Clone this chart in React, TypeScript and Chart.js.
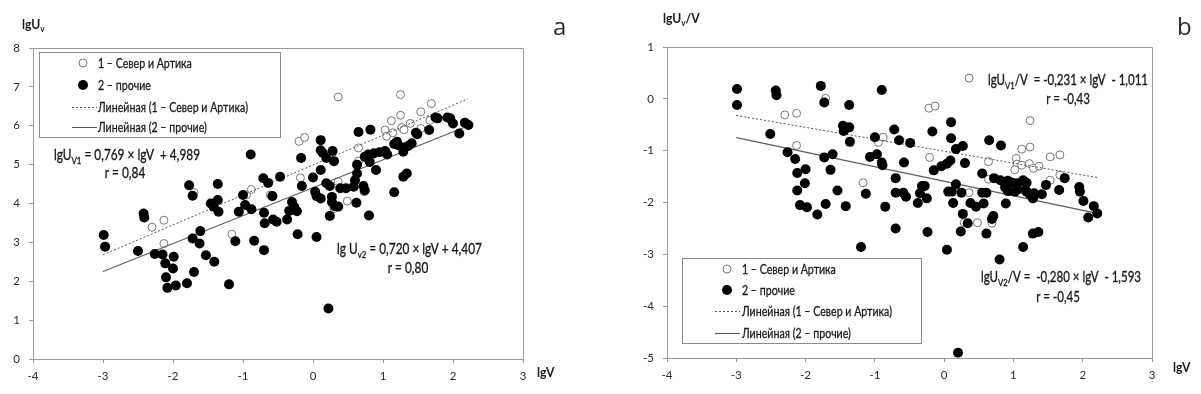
import React, { useEffect, useRef } from "react";
import { Chart, registerables } from "chart.js";

Chart.register(...registerables);

type P = [number, number];

// ---------- Panel a: lgUv vs lgV ----------
const northA: P[] = [
  [-2.30, 3.39], [-2.13, 3.57], [-2.13, 2.97], [-1.70, 4.28], [-1.16, 3.21], [-0.95, 4.22],
  [-0.88, 4.36], [-0.61, 4.22], [-0.20, 5.60], [-0.12, 5.70], [-0.18, 4.66], [0.30, 3.87],
  [0.36, 6.74], [0.36, 4.56], [0.49, 4.06], [0.65, 5.43], [0.65, 5.09], [0.73, 4.30],
  [1.03, 5.89], [1.05, 5.73], [1.12, 6.13], [1.14, 5.82], [1.25, 6.80], [1.25, 6.27],
  [1.27, 5.95], [1.30, 5.90], [1.39, 6.06], [1.54, 6.36], [1.54, 5.93], [1.67, 6.14], [1.69, 6.57],
];
const otherA: P[] = [
  [-2.99, 3.19], [-2.97, 2.89], [-2.50, 2.78], [-2.42, 3.74], [-2.41, 3.64], [-2.26, 2.70],
  [-2.15, 2.69], [-2.11, 2.46], [-2.10, 2.10], [-2.08, 1.83], [-1.99, 2.63], [-2.00, 2.33],
  [-1.96, 1.89], [-1.80, 1.95], [-1.77, 4.47], [-1.72, 4.20], [-1.72, 3.10], [-1.70, 2.24],
  [-1.61, 3.29], [-1.62, 2.97], [-1.53, 2.67], [-1.46, 4.00], [-1.42, 3.92], [-1.36, 4.09],
  [-1.35, 3.79], [-1.36, 4.50], [-1.41, 2.50], [-1.20, 1.92], [-1.11, 3.03], [-1.06, 3.79],
  [-1.00, 4.22], [-0.97, 3.96], [-0.88, 3.85], [-0.89, 5.26], [-0.84, 3.04], [-0.71, 4.65],
  [-0.64, 4.53], [-0.70, 3.76], [-0.69, 3.49], [-0.70, 2.80], [-0.58, 4.19], [-0.57, 3.59],
  [-0.52, 3.53], [-0.47, 4.69], [-0.37, 3.59], [-0.34, 3.81], [-0.30, 4.04], [-0.27, 3.92],
  [-0.23, 3.80], [-0.22, 3.21], [-0.17, 5.17], [-0.16, 4.45], [0.00, 4.67], [0.03, 4.30],
  [0.05, 4.19], [0.05, 3.14], [0.11, 5.63], [0.11, 5.37], [0.14, 5.30], [0.11, 4.86],
  [0.11, 4.13], [0.19, 5.17], [0.19, 4.52], [0.22, 1.30], [0.24, 4.45], [0.24, 3.68],
  [0.27, 4.17], [0.27, 4.04], [0.28, 5.35], [0.30, 5.09], [0.31, 3.93], [0.36, 3.92],
  [0.39, 4.39], [0.47, 4.39], [0.58, 4.43], [0.60, 4.60], [0.62, 4.02], [0.63, 5.00],
  [0.63, 4.77], [0.65, 5.84], [0.72, 4.45], [0.74, 4.34], [0.74, 5.20], [0.79, 5.26],
  [0.80, 3.69], [0.81, 5.07], [0.82, 5.90], [0.87, 5.29], [0.90, 4.86], [0.95, 5.32],
  [1.03, 5.35], [1.06, 5.26], [1.16, 5.53], [1.16, 4.29], [1.20, 5.59], [1.22, 5.50],
  [1.29, 5.33], [1.29, 4.69], [1.30, 5.44], [1.34, 4.77], [1.36, 5.48], [1.41, 5.55],
  [1.47, 5.82], [1.49, 5.78], [1.66, 5.89], [1.75, 6.21], [1.78, 6.19], [1.92, 6.21],
  [1.96, 6.19], [2.00, 6.06], [2.09, 5.80], [2.17, 6.08], [2.22, 6.02],
];
const trendNorthA: P[] = [[-3, 2.68], [2.21, 6.69]];
const trendOtherA: P[] = [[-3, 2.25], [2.22, 6.0]];

// ---------- Panel b: lgUv/V vs lgV ----------
const northB: P[] = [
  [-2.30, -0.31], [-2.13, -0.28], [-2.13, -0.90], [-1.71, 0.01], [-1.17, -1.62], [-0.95, -0.84],
  [-0.88, -0.74], [-0.22, -0.18], [-0.13, -0.14], [-0.21, -1.13], [0.36, 0.40], [0.36, -1.81],
  [0.29, -2.39], [0.48, -2.39], [0.69, -2.40], [0.64, -1.21], [0.64, -1.55], [1.24, -0.42],
  [1.12, -0.97], [1.24, -0.93], [1.04, -1.15], [1.05, -1.26], [1.02, -1.37], [1.12, -1.28],
  [1.23, -1.25], [1.29, -1.34], [1.37, -1.30], [1.53, -1.12], [1.67, -1.08], [1.67, -1.47], [1.53, -1.57],
];
const otherB: P[] = [
  [-2.99, 0.19], [-2.99, -0.12], [-2.43, 0.16], [-2.42, 0.07], [-2.51, -0.68], [-2.26, -1.03],
  [-2.15, -1.16], [-2.12, -1.43], [-2.00, -1.36], [-2.01, -1.63], [-2.12, -1.77], [-2.08, -2.05],
  [-1.98, -2.09], [-1.83, -2.23], [-1.78, 0.25], [-1.73, -0.07], [-1.73, -1.13], [-1.71, -2.03],
  [-1.61, -1.07], [-1.64, -1.37], [-1.54, -1.77], [-1.46, -0.52], [-1.42, -0.57], [-1.37, -0.55],
  [-1.45, -0.62], [-1.37, -0.12], [-1.36, -0.83], [-1.42, -2.07], [-1.20, -2.86], [-1.13, -1.83],
  [-1.07, -1.12], [-1.00, -0.74], [-0.97, -1.07], [-0.90, 0.17], [-0.90, -1.23], [-0.89, -1.28],
  [-0.85, -2.08], [-0.72, -0.59], [-0.65, -0.80], [-0.70, -1.53], [-0.70, -1.81], [-0.70, -2.50],
  [-0.58, -1.23], [-0.59, -1.81], [-0.55, -1.89], [-0.49, -0.85], [-0.38, -2.01], [-0.35, -1.82],
  [-0.32, -1.68], [-0.28, -1.68], [-0.25, -1.92], [-0.24, -2.57], [-0.17, -0.63], [-0.15, -1.38],
  [-0.04, -1.30], [0.04, -1.25], [0.09, -1.19], [0.04, -2.91], [0.06, -1.79], [0.11, -1.79],
  [0.10, -0.45], [0.10, -0.76], [0.13, -2.01], [0.17, -0.97], [0.17, -1.65], [0.20, -4.90],
  [0.25, -1.81], [0.27, -0.91], [0.27, -2.22], [0.30, -1.24], [0.24, -2.56], [0.34, -2.40],
  [0.38, -2.01], [0.46, -2.08], [0.55, -1.81], [0.61, -1.81], [0.57, -2.02], [0.69, -2.32],
  [0.71, -2.26], [0.61, -2.60], [0.80, -3.10], [0.89, -2.02], [0.65, -0.80], [0.82, -0.90],
  [0.55, -1.44], [0.72, -1.53], [0.81, -1.57], [0.86, -1.60], [0.92, -1.58], [0.99, -1.62],
  [1.06, -1.63], [1.14, -1.57], [1.19, -1.62], [1.05, -1.76], [1.17, -1.76], [1.23, -1.83],
  [1.29, -1.89], [0.88, -1.71], [0.92, -1.78], [1.02, -1.79], [1.19, -1.79], [1.30, -1.82],
  [1.41, -1.84], [1.28, -1.92], [1.14, -2.86], [1.28, -2.60], [1.36, -2.57], [1.47, -1.66],
  [1.74, -1.53], [1.66, -1.76], [1.95, -1.70], [1.96, -1.79], [2.01, -1.97], [2.16, -2.07],
  [2.08, -2.29], [2.21, -2.21],
];
const trendNorthB: P[] = [[-3, -0.32], [2.22, -1.52]];
const trendOtherB: P[] = [[-3, -0.75], [2.21, -2.21]];

// ---------- Texts ----------
const legendLabels = [
  "1 – Север и Артика",
  "2 – прочие",
  "Линейная (1 – Север и Артика)",
  "Линейная (2 – прочие)",
];
type Seg = { t: string; sub?: boolean };
const eqA1: Seg[] = [{ t: "lgU" }, { t: "V1", sub: true }, { t: " = 0,769 × lgV  + 4,989" }];
const rA1: Seg[] = [{ t: "r = 0,84" }];
const eqA2: Seg[] = [{ t: "lg U" }, { t: "v2", sub: true }, { t: " = 0,720 × lgV + 4,407" }];
const rA2: Seg[] = [{ t: "r = 0,80" }];
const eqB1: Seg[] = [{ t: "lgU" }, { t: "V1", sub: true }, { t: "/V  = -0,231 × lgV  - 1,011" }];
const rB1: Seg[] = [{ t: "r = -0,43" }];
const eqB2: Seg[] = [{ t: "lgU" }, { t: "V2", sub: true }, { t: "/V =  -0,280 × lgV  - 1,593" }];
const rB2: Seg[] = [{ t: "r = -0,45" }];
const yTitleA: Seg[] = [{ t: "lgU" }, { t: "v", sub: true }];
const yTitleB: Seg[] = [{ t: "lgU" }, { t: "v", sub: true }, { t: "/V" }];
const xTitle: Seg[] = [{ t: "lgV" }];

const FONT = "Lato, 'Liberation Sans', sans-serif";
const TEXT = "#1a1a1a";
const FRAME = "#9a9a9a";

type TextItem = { segs: Seg[]; x: number; y: number; size: number; bold?: boolean; align?: "left" | "center"; k: number };

function segWidth(ctx: CanvasRenderingContext2D, segs: Seg[], size: number, bold?: boolean) {
  const w = bold ? "bold " : "";
  let total = 0;
  for (const s of segs) {
    ctx.font = `${w}${s.sub ? Math.round(size * 0.68) : size}px ${FONT}`;
    total += ctx.measureText(s.t).width;
  }
  return total;
}

function drawRich(ctx: CanvasRenderingContext2D, it: TextItem, k: number) {
  const w = it.bold ? "bold " : "";
  const main = `${w}${it.size}px ${FONT}`;
  const sub = `${w}${Math.round(it.size * 0.68)}px ${FONT}`;
  const total = segWidth(ctx, it.segs, it.size, it.bold);
  const start = it.align === "center" ? it.x - (total * k) / 2 : it.x;
  ctx.save();
  ctx.translate(start, it.y);
  ctx.scale(k, 1);
  ctx.textAlign = "left";
  ctx.textBaseline = "alphabetic";
  ctx.fillStyle = TEXT;
  ctx.strokeStyle = TEXT;
  ctx.lineWidth = it.bold ? 0 : 0.35;
  let cx = 0;
  for (const s of it.segs) {
    ctx.font = s.sub ? sub : main;
    const yy = s.sub ? it.size * 0.25 : 0;
    ctx.fillText(s.t, cx, yy);
    if (!it.bold) ctx.strokeText(s.t, cx, yy);
    cx += ctx.measureText(s.t).width;
  }
  ctx.restore();
}

type LegendSpec = { box: [number, number, number, number]; rows: number[]; markerX: number; textX: number; lineX0: number; lineX1: number; longestW: number };

const overlayPlugin = {
  id: "overlay",
  beforeDatasetsDraw(chart: any) {
    const { ctx, chartArea: ca } = chart;
    ctx.save();
    ctx.strokeStyle = FRAME;
    ctx.lineWidth = 1;
    ctx.beginPath();
    ctx.moveTo(Math.round(ca.left), Math.round(ca.top) + 0.5);
    ctx.lineTo(Math.round(ca.right) + 0.5, Math.round(ca.top) + 0.5);
    ctx.lineTo(Math.round(ca.right) + 0.5, Math.round(ca.bottom));
    ctx.stroke();
    ctx.restore();
  },
  afterDraw(chart: any, _args: any, opts: any) {
    const ctx: CanvasRenderingContext2D = chart.ctx;
    ctx.save();
    const lg: LegendSpec = opts.legend;
    if (lg) {
      const [x0, y0, x1, y1] = lg.box;
      ctx.fillStyle = "#fff";
      ctx.fillRect(x0, y0, x1 - x0, y1 - y0);
      ctx.strokeStyle = "#8a8a8a";
      ctx.lineWidth = 1;
      ctx.strokeRect(x0 + 0.5, y0 + 0.5, x1 - x0, y1 - y0);
      ctx.beginPath();
      ctx.arc(lg.markerX, lg.rows[0], 4, 0, Math.PI * 2);
      ctx.fillStyle = "#fff";
      ctx.fill();
      ctx.strokeStyle = "#777";
      ctx.stroke();
      ctx.beginPath();
      ctx.arc(lg.markerX, lg.rows[1], 5, 0, Math.PI * 2);
      ctx.fillStyle = "#000";
      ctx.fill();
      ctx.strokeStyle = "#555";
      ctx.setLineDash([2, 2]);
      ctx.beginPath();
      ctx.moveTo(lg.lineX0, lg.rows[2] + 0.5);
      ctx.lineTo(lg.lineX1, lg.rows[2] + 0.5);
      ctx.stroke();
      ctx.setLineDash([]);
      ctx.beginPath();
      ctx.moveTo(lg.lineX0, lg.rows[3] + 0.5);
      ctx.lineTo(lg.lineX1, lg.rows[3] + 0.5);
      ctx.stroke();
      ctx.fillStyle = TEXT;
      ctx.strokeStyle = TEXT;
      ctx.lineWidth = 0.3;
      ctx.font = `13.5px ${FONT}`;
      const kL = lg.longestW / ctx.measureText(legendLabels[2]).width;
      ctx.textBaseline = "middle";
      ctx.textAlign = "left";
      legendLabels.forEach((l, i) => {
        ctx.save();
        ctx.translate(lg.textX, lg.rows[i] + 1);
        ctx.scale(kL, 1);
        ctx.fillText(l, 0, 0);
        ctx.strokeText(l, 0, 0);
        ctx.restore();
      });
    }
    const texts = opts.texts as TextItem[];
    const ref = texts[0];
    const k = opts.eqWidth / segWidth(ctx, ref.segs, ref.size);
    texts.forEach((t) => drawRich(ctx, t, t.bold ? t.k : k));
    if (opts.letter) {
      ctx.font = `400 24px 'Open Sans', Lato, sans-serif`;
      ctx.fillStyle = "#2a2a2a";
      ctx.textBaseline = "alphabetic";
      ctx.textAlign = "left";
      ctx.fillText(opts.letter.t, opts.letter.x, opts.letter.y);
    }
    ctx.restore();
  },
};

type PanelSpec = {
  width: number;
  north: P[];
  other: P[];
  trendNorth: P[];
  trendOther: P[];
  yMin: number;
  yMax: number;
  yW: number;
  xH: number;
  padTop: number;
  padRight: number;
  legend: LegendSpec;
  texts: TextItem[];
  eqWidth: number;
  letter: { t: string; x: number; y: number };
};

const toXY = (a: P[]) => a.map(([x, y]) => ({ x, y }));

function makeConfig(p: PanelSpec): any {
  const tickFont = { family: FONT, size: 11.5 };
  return {
    type: "scatter",
    data: {
      datasets: [
        {
          label: "2 – прочие",
          data: toXY(p.other),
          pointRadius: 5,
          pointBackgroundColor: "#000",
          pointBorderColor: "#000",
          pointBorderWidth: 0,
          showLine: false,
        },
        {
          label: "Линейная (2 – прочие)",
          data: toXY(p.trendOther),
          showLine: true,
          pointRadius: 0,
          borderColor: "#5e5e5e",
          borderWidth: 1.2,
          fill: false,
        },
        {
          label: "Линейная (1 – Север и Артика)",
          data: toXY(p.trendNorth),
          showLine: true,
          pointRadius: 0,
          borderColor: "#555",
          borderWidth: 1,
          borderDash: [2, 2],
          fill: false,
        },
        {
          label: "1 – Север и Артика",
          data: toXY(p.north),
          pointRadius: 4,
          pointBackgroundColor: "#fff",
          pointBorderColor: "#777",
          pointBorderWidth: 1,
          showLine: false,
        },
      ],
    },
    options: {
      animation: false,
      responsive: false,
      devicePixelRatio: 1,
      events: [],
      layout: { padding: { top: p.padTop, right: p.padRight, left: 0, bottom: 0 } },
      plugins: {
        legend: { display: false },
        tooltip: { enabled: false },
        overlay: { legend: p.legend, texts: p.texts, letter: p.letter, eqWidth: p.eqWidth },
      },
      scales: {
        x: {
          type: "linear",
          min: -4,
          max: 3,
          afterFit: (s: any) => {
            s.height = p.xH;
          },
          ticks: { stepSize: 1, color: "#2a2a2a", font: tickFont, padding: 6 },
          grid: { drawOnChartArea: false, drawTicks: true, tickLength: 4, color: FRAME },
          border: { color: FRAME },
        },
        y: {
          type: "linear",
          min: p.yMin,
          max: p.yMax,
          afterFit: (s: any) => {
            s.width = p.yW;
          },
          ticks: { stepSize: 1, color: "#2a2a2a", font: tickFont, padding: 9 },
          grid: { drawOnChartArea: false, drawTicks: true, tickLength: 4, color: FRAME },
          border: { color: FRAME },
        },
      },
    },
    plugins: [overlayPlugin],
  };
}

const panelA: PanelSpec = {
  width: 600,
  north: northA,
  other: otherA,
  trendNorth: trendNorthA,
  trendOther: trendOtherA,
  yMin: 0,
  yMax: 8,
  yW: 33,
  xH: 35,
  padTop: 48,
  padRight: 77,
  legend: { box: [39, 52, 280, 137], rows: [63, 85, 107, 127], markerX: 83, textX: 98, lineX0: 72, lineX1: 97, longestW: 150 },
  eqWidth: 146,
  texts: [
    { segs: eqA1, x: 54, y: 160, size: 15, k: 1 },
    { segs: rA1, x: 125, y: 178, size: 15, align: "center", k: 1 },
    { segs: eqA2, x: 337, y: 254, size: 15, k: 1 },
    { segs: rA2, x: 408, y: 273, size: 15, align: "center", k: 1 },
    { segs: yTitleA, x: 22, y: 29, size: 13.5, bold: true, k: 0.9 },
    { segs: xTitle, x: 537, y: 377, size: 13.5, bold: true, k: 0.9 },
  ],
  letter: { t: "a", x: 553, y: 35 },
};

const panelB: PanelSpec = {
  width: 601,
  north: northB,
  other: otherB,
  trendNorth: trendNorthB,
  trendOther: trendOtherB,
  yMin: -5,
  yMax: 1,
  yW: 67,
  xH: 36,
  padTop: 47,
  padRight: 49,
  legend: { box: [82, 258, 321, 343], rows: [269, 290, 311, 333], markerX: 127, textX: 142, lineX0: 115, lineX1: 140, longestW: 150 },
  eqWidth: 160,
  texts: [
    { segs: eqB1, x: 388, y: 85, size: 15, k: 1 },
    { segs: rB1, x: 468, y: 104, size: 15, align: "center", k: 1 },
    { segs: eqB2, x: 381, y: 282, size: 15, k: 1 },
    { segs: rB2, x: 458, y: 302, size: 15, align: "center", k: 1 },
    { segs: yTitleB, x: 63, y: 23, size: 13.5, bold: true, k: 0.9 },
    { segs: xTitle, x: 573, y: 372, size: 13.5, bold: true, k: 0.9 },
  ],
  letter: { t: "b", x: 577, y: 35 },
};

function Panel({ spec, left }: { spec: PanelSpec; left: number }) {
  const ref = useRef<HTMLCanvasElement | null>(null);
  useEffect(() => {
    if (!ref.current) return;
    const chart = new Chart(ref.current, makeConfig(spec));
    return () => chart.destroy();
  }, [spec]);
  return (
    <canvas
      ref={ref}
      width={spec.width}
      height={394}
      style={{ position: "absolute", left, top: 0, width: spec.width, height: 394 }}
    />
  );
}

export default function App() {
  return (
    <div style={{ position: "fixed", left: 0, top: 0, width: 1201, height: 394, background: "#fff", overflow: "hidden" }}>
      <Panel spec={panelA} left={0} />
      <Panel spec={panelB} left={600} />
    </div>
  );
}
